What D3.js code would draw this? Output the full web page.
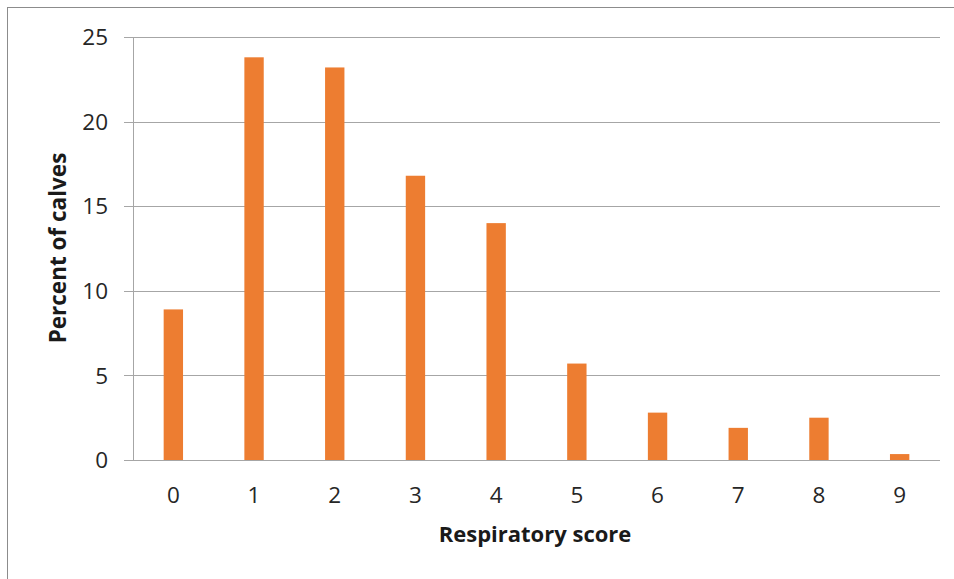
<!DOCTYPE html>
<html>
<head>
<meta charset="utf-8">
<script src="https://cdn.jsdelivr.net/npm/d3@7"></script>
<style>
  html, body { margin: 0; padding: 0; background: #fff; }
  svg { display: block; }
</style>
</head>
<body>
<svg id="chart" width="954" height="579"></svg>
<script>
// Respiratory score distribution of calves
const scores = ["0", "1", "2", "3", "4", "5", "6", "7", "8", "9"];
const percents = [8.9, 23.8, 23.2, 16.8, 14.0, 5.7, 2.8, 1.9, 2.5, 0.35];
const yTicks = [0, 5, 10, 15, 20, 25];

const svg = d3.select("#chart");
const W = 954, H = 579;
const plot = { left: 133, right: 940, top: 37, bottom: 460 };

// outer chart frame
svg.append("rect")
  .attr("x", 7.5).attr("y", 7.5)
  .attr("width", W).attr("height", H)
  .attr("fill", "none").attr("stroke", "#8c8c8c").attr("stroke-width", 1);

const x = d3.scaleBand().domain(scores).range([plot.left, plot.right]).paddingInner(0.76).paddingOuter(0.38);
const y = d3.scaleLinear().domain([0, 25]).range([plot.bottom, plot.top]);

// horizontal gridlines with left tick stubs
svg.append("g")
  .selectAll("line")
  .data(yTicks)
  .join("line")
  .attr("x1", plot.left - 9).attr("x2", plot.right)
  .attr("y1", d => Math.round(y(d)) + 0.5).attr("y2", d => Math.round(y(d)) + 0.5)
  .attr("stroke", "#a6a6a6").attr("stroke-width", 1);

// vertical axis line
svg.append("line")
  .attr("x1", plot.left + 0.5).attr("x2", plot.left + 0.5)
  .attr("y1", plot.top).attr("y2", plot.bottom)
  .attr("stroke", "#a6a6a6");

// y tick labels
svg.append("g")
  .selectAll("text")
  .data(yTicks)
  .join("text")
  .attr("x", 108).attr("y", d => y(d))
  .attr("dy", "0.36em")
  .attr("text-anchor", "end")
  .attr("font-family", "Open Sans, sans-serif")
  .attr("font-size", 22.5)
  .attr("fill", "#262626")
  .text(d => d);

// bars
svg.append("g")
  .selectAll("rect")
  .data(percents)
  .join("rect")
  .attr("x", (d, i) => x(scores[i]))
  .attr("width", x.bandwidth())
  .attr("y", d => y(d))
  .attr("height", d => y(0) - y(d))
  .attr("fill", "#ed7d31");

// x tick labels
svg.append("g")
  .selectAll("text")
  .data(scores)
  .join("text")
  .attr("x", d => x(d) + x.bandwidth() / 2)
  .attr("y", 503)
  .attr("text-anchor", "middle")
  .attr("font-family", "Open Sans, sans-serif")
  .attr("font-size", 22.5)
  .attr("fill", "#262626")
  .text(d => d);

// axis titles
svg.append("text")
  .attr("x", 535).attr("y", 542)
  .attr("text-anchor", "middle")
  .attr("font-family", "Open Sans, sans-serif")
  .attr("font-weight", "bold")
  .attr("font-size", 22)
  .attr("fill", "#1a1a1a")
  .text("Respiratory score");

svg.append("text")
  .attr("transform", "translate(66,248) rotate(-90)")
  .attr("text-anchor", "middle")
  .attr("font-family", "Open Sans, sans-serif")
  .attr("font-weight", "bold")
  .attr("font-size", 22.5)
  .attr("fill", "#1a1a1a")
  .text("Percent of calves");
</script>
</body>
</html>
